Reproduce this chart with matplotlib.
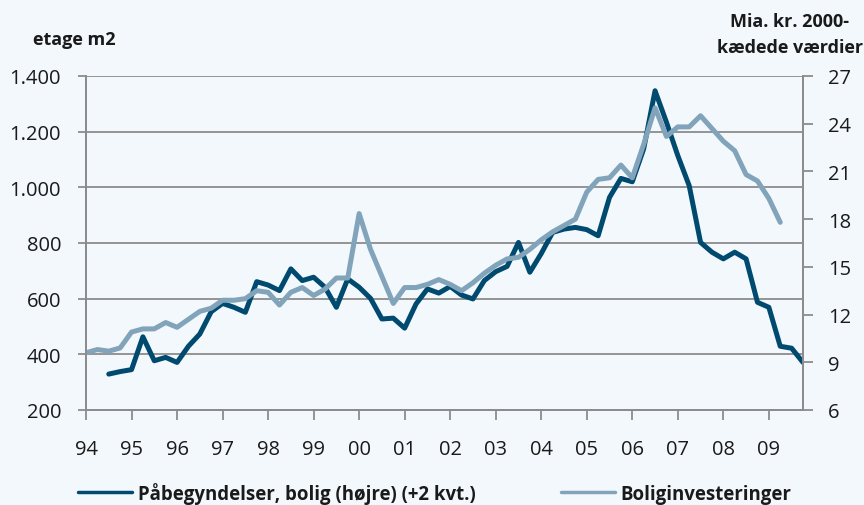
import numpy as np
import matplotlib
matplotlib.use('Agg')
import matplotlib.pyplot as plt
from matplotlib.ticker import FuncFormatter

plt.rcParams['font.family'] = ['Open Sans', 'DejaVu Sans']

# kvartaler 1994K1 - 2009K4
years = ['94', '95', '96', '97', '98', '99', '00', '01', '02',
         '03', '04', '05', '06', '07', '08', '09']
n_quarters = 64

# Påbegyndelser, bolig (etage m2), forskudt +2 kvt. -> starter 1994K3
starts = [329, 338, 345, 463, 377, 389, 371, 429, 473, 553,
          583, 569, 551, 661, 649, 629, 707, 665, 677, 641,
          569, 671, 641, 601, 527, 530, 494, 581, 635, 620,
          644, 613, 599, 665, 697, 716, 802, 695, 762, 838,
          850, 856, 848, 826, 964, 1032, 1020, 1138, 1347, 1234,
          1114, 1006, 802, 767, 743, 767, 743, 587, 569, 429,
          422, 371]
starts_offset = 2

# Boliginvesteringer (mia. kr., 2000-kædede værdier), 1994K1 - 2009K2
invest = [9.6, 9.8, 9.7, 9.9, 10.9, 11.1, 11.1, 11.5, 11.2, 11.7,
          12.2, 12.4, 12.9, 12.9, 13.0, 13.5, 13.4, 12.6, 13.4, 13.7,
          13.2, 13.6, 14.3, 14.3, 18.35, 16.1, 14.4, 12.7, 13.7, 13.7,
          13.9, 14.2, 13.9, 13.5, 14.0, 14.6, 15.1, 15.5, 15.6, 16.1,
          16.7, 17.2, 17.6, 18.0, 19.7, 20.5, 20.6, 21.4, 20.6, 22.7,
          25.0, 23.2, 23.8, 23.8, 24.5, 23.7, 22.9, 22.3, 20.8, 20.4,
          19.3, 17.8]

bg = '#f3f8fc'
dark = '#004a70'
light = '#82a4bb'
grey = '#8c8c8c'
txt = '#1a1a1a'

fig = plt.figure(figsize=(8.64, 5.06), dpi=100, facecolor=bg)
ax = fig.add_axes([86/864, 1-411/506, (803-86)/864, (411-77)/506])
ax.set_facecolor(bg)
ax2 = ax.twinx()

x_starts = np.arange(starts_offset, starts_offset + len(starts))
x_invest = np.arange(len(invest))

l1, = ax.plot(x_starts, starts, color=dark, lw=3.6, solid_capstyle='round')
l2, = ax2.plot(x_invest, invest, color=light, lw=3.6, solid_capstyle='round')

ax.set_xlim(0, n_quarters - 1)
ax.set_ylim(200, 1400)
ax2.set_ylim(6, 27)
ax.set_yticks(range(200, 1401, 200))
ax2.set_yticks(range(6, 28, 3))
ax.yaxis.set_major_formatter(FuncFormatter(lambda v, p: f'{int(v):,}'.replace(',', '.')))
ax.set_xticks(range(0, n_quarters, 4))
ax.set_xticklabels(years)

ax.grid(axis='y', color=grey, lw=1.3)
ax.set_axisbelow(True)

for a in (ax, ax2):
    a.spines['top'].set_visible(False)
    for s in ('left', 'right', 'bottom'):
        a.spines[s].set_color(grey)
        a.spines[s].set_linewidth(1.3)
ax.tick_params(axis='y', length=6, width=1.3, color=grey, pad=12, labelsize=14.5, labelcolor=txt)
ax.tick_params(axis='x', length=7, width=1.3, color=grey, pad=14, labelsize=14.5, labelcolor=txt)
ax2.tick_params(axis='y', length=7, width=1.3, color=grey, pad=11, labelsize=14.5, labelcolor=txt)

fig.text(33/864, 1-40/506, 'etage m2', ha='left', va='center', fontsize=13,
         fontweight='bold', color=txt)
fig.text(790/864, 1-22/506, 'Mia. kr. 2000-', ha='center', va='center', fontsize=13,
         fontweight='bold', color=txt)
fig.text(790/864, 1-48/506, 'kædede værdier', ha='center', va='center', fontsize=13,
         fontweight='bold', color=txt)

leg = fig.legend([l1, l2], ['Påbegyndelser, bolig (højre) (+2 kvt.)', 'Boliginvesteringer'],
                 loc='center left', bbox_to_anchor=(78/864, 1-494/506), ncol=2,
                 frameon=False, borderpad=0, borderaxespad=0, handlelength=2.9,
                 handletextpad=0.3, columnspacing=4.6,
                 prop={'weight': 'bold', 'size': 13.4})
for t in leg.get_texts():
    t.set_color(txt)
for h in leg.legend_handles:
    h.set_linewidth(2.5)

fig.savefig('out.png', dpi=100, facecolor=bg)
